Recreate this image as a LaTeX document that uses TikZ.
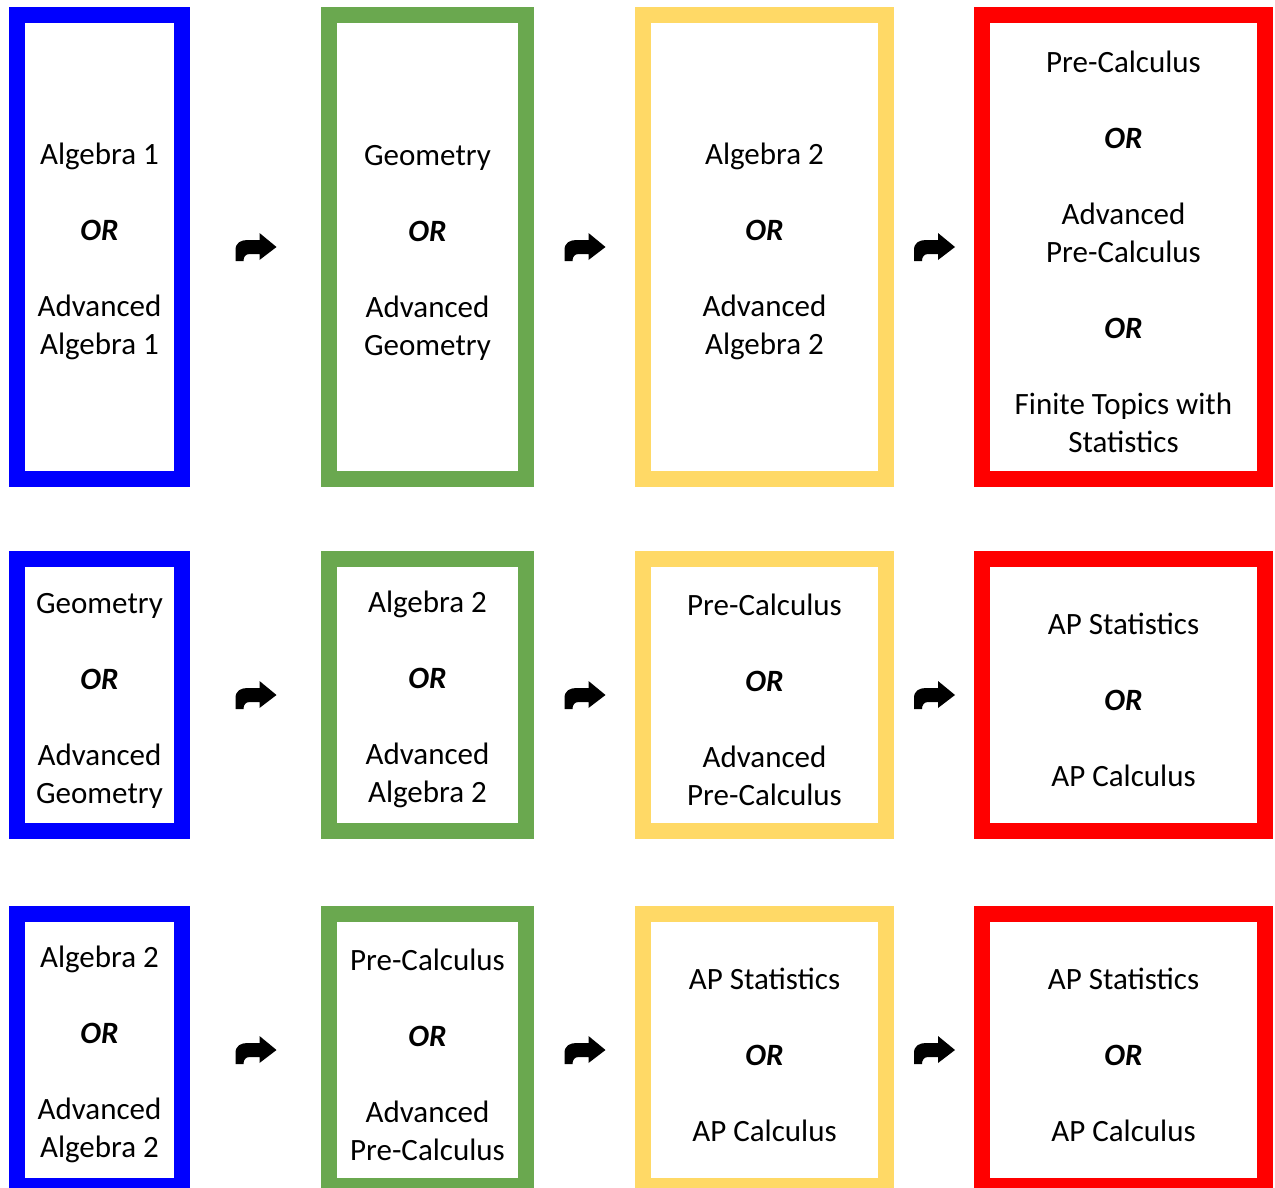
\documentclass[tikz,border=0pt]{standalone}
\usepackage{fontspec}
\usepackage{xcolor}
\setmainfont{Carlito}
\usetikzlibrary{calc}

\definecolor{boxblue}{HTML}{0000FF}
\definecolor{boxgreen}{HTML}{6AA84F}
\definecolor{boxyellow}{HTML}{FFD966}
\definecolor{boxred}{HTML}{FF0000}

\newcommand{\orword}{\textbf{\textit{OR}}}
\newcommand{\topstrut}{\rule{0pt}{31pt}}

\tikzset{
  course/.style={draw=#1, line width=16pt, align=center, inner sep=0pt,
    font=\fontsize{31}{38}\selectfont},
  tallrow/.style={minimum height=464pt},
  lowrow/.style={minimum height=272pt},
  colb/.style={course=boxblue, minimum width=165pt},
  colg/.style={course=boxgreen, minimum width=197pt},
  coly/.style={course=boxyellow, minimum width=243pt},
  colr/.style={course=boxred, minimum width=283pt},
  bent/.pic={
    \fill (4,-14) -- (21,0) -- (4,13) -- (4,7) -- (-6,7)
      .. controls (-10,7) and (-12,10) .. (-12,14) -- (-20,14) -- (-20,3)
      .. controls (-20,-4) and (-15,-7) .. (-8,-7) -- (4,-7) -- cycle;
  }
}

\begin{document}
\begin{tikzpicture}[x=1pt, y=-1pt]
        \useasboundingbox (0,0) rectangle (1275,1188);
        \clip (0,0) rectangle (1275,1188);

        % first row
        \node[colb, tallrow] (b1) at (99.5,247) {\topstrut Algebra 1\\[38pt]\orword\\[38pt]Advanced\\Algebra 1};
        \node[colg, tallrow] (g1) at (427.5,247) {\topstrut Geometry\\[38pt]\orword\\[38pt]Advanced\\Geometry};
        \node[coly, tallrow] (y1) at (764.5,247) {\topstrut Algebra 2\\[38pt]\orword\\[38pt]Advanced\\Algebra 2};
        \node[colr, tallrow] (r1) at (1123.5,247) {\topstrut Pre-Calculus\\[38pt]\orword\\[38pt]Advanced\\Pre-Calculus\\[38pt]\orword\\[38pt]Finite Topics with\\Statistics};

        % second row
        \node[colb, lowrow] (b2) at (99.5,695) {\topstrut Geometry\\[38pt]\orword\\[38pt]Advanced\\Geometry};
        \node[colg, lowrow] (g2) at (427.5,695) {\topstrut Algebra 2\\[38pt]\orword\\[38pt]Advanced\\Algebra 2};
        \node[coly, lowrow] (y2) at (764.5,695) {\topstrut Pre-Calculus\\[38pt]\orword\\[38pt]Advanced\\Pre-Calculus};
        \node[colr, lowrow] (r2) at (1123.5,695) {\topstrut AP Statistics\\[38pt]\orword\\[38pt]AP Calculus};

        % third row
        \node[colb, lowrow] (b3) at (99.5,1050) {\topstrut Algebra 2\\[38pt]\orword\\[38pt]Advanced\\Algebra 2};
        \node[colg, lowrow] (g3) at (427.5,1050) {\topstrut Pre-Calculus\\[38pt]\orword\\[38pt]Advanced\\Pre-Calculus};
        \node[coly, lowrow] (y3) at (764.5,1050) {\topstrut AP Statistics\\[38pt]\orword\\[38pt]AP Calculus};
        \node[colr, lowrow] (r3) at (1123.5,1050) {\topstrut AP Statistics\\[38pt]\orword\\[38pt]AP Calculus};

        % arrows between the boxes
        \foreach \row in {1,2,3} {
          \pic at ($(b\row.east)!0.5!(g\row.west)$) {bent};
          \pic at ($(g\row.east)!0.5!(y\row.west)$) {bent};
          \pic at ($(y\row.east)!0.5!(r\row.west)$) {bent};
        }
\end{tikzpicture}
\end{document}
